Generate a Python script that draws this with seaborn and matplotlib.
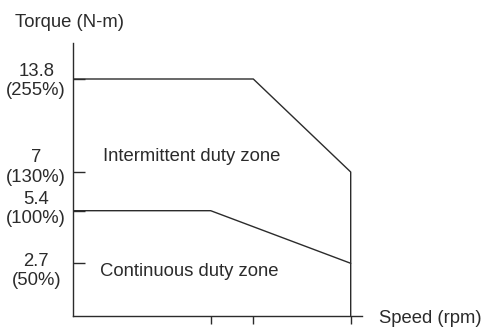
import numpy as np
import pandas as pd
import seaborn as sns
import matplotlib
matplotlib.use("Agg")
import matplotlib.pyplot as plt
from matplotlib.transforms import ScaledTranslation

# chart data (schematic torque-speed curve)
intermittent_speed = [0, 2000, 3000, 3000]
intermittent_torque = [13.8, 13.8, 7.0, 0.0]
continuous_speed = [0, 1500, 3000]
continuous_torque = [5.4, 5.4, 2.7]

torque_ticks = [13.8, 7.0, 5.4, 2.7]
torque_labels = ["13.8\n(255%)", "7\n(130%)", "5.4\n(100%)", "2.7\n(50%)"]
speed_ticks = [1500, 2000, 3000]

# the drawing is not to scale: piecewise mapping of values onto the axes
y_knots_val = [0, 2.7, 5.4, 7.0, 13.8, 16.0]
y_knots_pos = [0, 52.4, 105.0, 143.7, 236.7, 272.7]
x_knots_val = [0, 1500, 2000, 3000, 3120]
x_knots_pos = [0, 137.7, 180.3, 277.7, 288.7]

sns.set_style("white")
plt.rcParams['font.family'] = ['Liberation Sans', 'DejaVu Sans']
plt.rcParams['font.size'] = 13.3
ink = '#2b2b2b'

fig = plt.figure(figsize=(4.86, 3.27), dpi=100)
ax = fig.add_axes([73 / 486, 11.3 / 327, 288.7 / 486, 272.7 / 327])

ax.set_xscale('function', functions=(lambda v: np.interp(v, x_knots_val, x_knots_pos),
                                     lambda v: np.interp(v, x_knots_pos, x_knots_val)))
ax.set_yscale('function', functions=(lambda v: np.interp(v, y_knots_val, y_knots_pos),
                                     lambda v: np.interp(v, y_knots_pos, y_knots_val)))

df_int = pd.DataFrame({'speed': intermittent_speed, 'torque': intermittent_torque})
df_con = pd.DataFrame({'speed': continuous_speed, 'torque': continuous_torque})
sns.lineplot(data=df_int, x='speed', y='torque', sort=False, estimator=None,
             color=ink, lw=1.0, ax=ax)
sns.lineplot(data=df_con, x='speed', y='torque', sort=False, estimator=None,
             color=ink, lw=1.0, ax=ax)

ax.set_xlim(0, 3120)
ax.set_ylim(0, 16.0)
sns.despine(ax=ax)
for s in ['left', 'bottom']:
    ax.spines[s].set_color(ink)
    ax.spines[s].set_linewidth(1.0)

ax.set_xticks(speed_ticks)
ax.set_xticklabels([])
ax.tick_params(axis='x', direction='out', length=5.8, width=1.0, color=ink, bottom=True)

ax.set_yticks(torque_ticks)
ax.set_yticklabels(torque_labels, ha='center', multialignment='center', va='center')
ax.tick_params(axis='y', direction='in', length=8.9, width=1.0, color=ink, left=True,
               pad=26.5, labelcolor=ink)
# small nudges so the two-line labels sit like the original
nudges = [-1.3, 3.2, 1.1, -5.4]
for lab, dy in zip(ax.get_yticklabels(), nudges):
    lab.set_transform(lab.get_transform() + ScaledTranslation(0, dy / 72, fig.dpi_scale_trans))

ax.set_xlabel('')
ax.set_ylabel('')

ax.text(0.103, 0.569, 'Intermittent duty zone', transform=ax.transAxes,
        va='baseline', ha='left', color=ink)
ax.text(0.0935, 0.144, 'Continuous duty zone', transform=ax.transAxes,
        va='baseline', ha='left', color=ink)
fig.text(15 / 486, 1 - 26.7 / 327, 'Torque (N-m)', va='baseline', ha='left', color=ink)
fig.text(379 / 486, 1 - 323.3 / 327, 'Speed (rpm)', va='baseline', ha='left', color=ink)

fig.savefig('out.png', dpi=100)
